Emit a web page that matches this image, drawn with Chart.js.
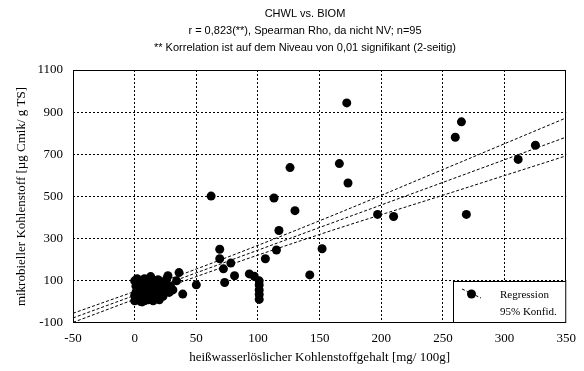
<!DOCTYPE html>
<html>
<head>
<meta charset="utf-8">
<script src="https://cdn.jsdelivr.net/npm/chart.js@4.4.1/dist/chart.umd.min.js"></script>
<style>
  html, body { margin: 0; padding: 0; background: #fff; }
  #wrap { width: 584px; height: 371px; }
</style>
</head>
<body>
<div id="wrap"><canvas id="chart" width="584" height="371"></canvas></div>
<script>
// heißwasserlöslicher Kohlenstoff (x) und mikrobieller Kohlenstoff (y), n=95
const chwl = [
  172, 265, 260, 325, 311, 166, 173, 126, 130, 197, 210, 269, 152, 62, 113, 117,
  115, 106, 142, 69, 69, 72, 78, 81, 73, 93, 97, 101, 101, 101, 101, 101, 50,
  0, 1, 1, 2, 2, 0, 3, 3, 3, 4, 4, 5, 5, 5, 6, 6, 7, 7, 7, 8, 8, 9, 9, 10, 10,
  11, 11, 12, 12, 13, 13, 14, 14, 15, 15, 16, 16, 17, 18, 18, 19, 20, 20, 21, 22,
  23, 24, 25, 26, 27, 28, 29, 31, 34, 36, 39, 2, 1, 0, 4, 6, 10, 8
];
const biom = [
  944, 854, 781, 743, 676, 656, 564, 637, 433, 415, 405, 415, 252, 502, 493, 339,
  246, 205, 128, 250, 205, 157, 184, 124, 92, 133, 122, 100, 80, 57, 35, 12, 81,
  5, 20, 45, 70, 95, 100, 10, 35, 60, 85, 100, 2, 25, 50, 75, 95, 15, 40, 65, 90, 5, 30, 55, 80, 100,
  10, 45, 70, 95, 20, 120, 55, 85, 5, 35, 65, 100, 25, 50, 80, 105, 10, 40, 70, 95,
  27, 55, 85, 110, 124, 45, 75, 57, 100, 139, 37, 110, 75, 30, 15, 0, 60, 110
];

// Regressionsgerade und 95%-Konfidenzband
const regX = [-50, 50, 150, 250, 350];
const regLine = [-76, 138, 353, 567, 782];
const confUpper = [-54, 156, 385, 628, 873];
const confLower = [-97, 120, 320, 506, 693];

const xTicks = [-50, 0, 50, 100, 150, 200, 250, 300, 350];
const yTicks = [-100, 100, 300, 500, 700, 900, 1100];

const titleLines = [
  'CHWL vs. BIOM',
  'r = 0,823(**), Spearman Rho, da nicht NV; n=95',
  '** Korrelation ist auf dem Niveau von 0,01 signifikant (2-seitig)'
];

const serif = 'Liberation Serif, Times New Roman, serif';
const sans = 'Liberation Sans, Arial, sans-serif';

const points = chwl.map((x, i) => ({ x: x, y: biom[i] }));
const toXY = (ys) => regX.map((x, i) => ({ x: x, y: ys[i] }));

const lineStyle = {
  type: 'line', showLine: true, pointRadius: 0, borderColor: '#000',
  borderWidth: 1, borderDash: [3, 2], tension: 0.35, fill: false
};

const gridColor = (edges) => (c) => (c.tick && edges.includes(c.tick.value)) ? 'rgba(0,0,0,0)' : '#000';

const framePlugin = {
  id: 'frame',
  afterDraw(chart) {
    const { ctx, chartArea: a } = chart;
    ctx.save();
    // plot frame
    ctx.strokeStyle = '#000';
    ctx.lineWidth = 1;
    ctx.setLineDash([]);
    ctx.strokeRect(Math.round(a.left) + 0.5, Math.round(a.top) + 0.5,
      Math.round(a.right - a.left) - 1, Math.round(a.bottom - a.top) - 1);

    // title
    ctx.fillStyle = '#000';
    ctx.font = '11px ' + sans;
    ctx.textAlign = 'center';
    ctx.textBaseline = 'middle';
    titleLines.forEach((t, i) => ctx.fillText(t, 305, 14 + i * 17));

    // legend box in the lower right corner
    const bx = 453, by = 281, bw = a.right - bx, bh = a.bottom - by;
    ctx.fillStyle = '#fff';
    ctx.fillRect(bx, by, bw, bh);
    ctx.strokeRect(bx + 0.5, by + 0.5, bw - 1, bh - 1);
    ctx.beginPath();
    ctx.setLineDash([3, 2]);
    ctx.moveTo(462, 289);
    ctx.lineTo(481, 298);
    ctx.stroke();
    ctx.setLineDash([]);
    ctx.beginPath();
    ctx.fillStyle = '#000';
    ctx.arc(471.5, 294, 4.5, 0, Math.PI * 2);
    ctx.fill();
    ctx.font = '11px ' + serif;
    ctx.textAlign = 'left';
    ctx.fillText('Regression', 500, 295);
    ctx.fillText('95% Konfid.', 500, 312);
    ctx.restore();
  }
};

new Chart(document.getElementById('chart'), {
  type: 'scatter',
  data: {
    datasets: [
      { label: 'BIOM', data: points, pointRadius: 4.5, pointHoverRadius: 4.5,
        backgroundColor: '#000', borderWidth: 0 },
      Object.assign({ label: 'Regression', data: toXY(regLine) }, lineStyle),
      Object.assign({ label: '95% Konfid. oben', data: toXY(confUpper) }, lineStyle),
      Object.assign({ label: '95% Konfid. unten', data: toXY(confLower) }, lineStyle)
    ]
  },
  options: {
    responsive: false,
    devicePixelRatio: 1,
    animation: false,
    layout: { padding: { top: 70, right: 17, left: 0, bottom: 0 } },
    plugins: {
      legend: { display: false },
      title: { display: false },
      tooltip: { enabled: false }
    },
    scales: {
      x: {
        type: 'linear', min: -50, max: 350,
        afterBuildTicks: (s) => { s.ticks = xTicks.map(v => ({ value: v })); },
        afterFit: (s) => { s.height = 48; },
        ticks: { color: '#000', font: { family: serif, size: 13 }, padding: 8, maxRotation: 0, autoSkip: false,
          callback: (v) => String(v) },
        grid: { color: gridColor([-50, 350]), lineWidth: 1, drawTicks: false },
        border: { display: false, dash: [2, 2] },
        title: {
          display: true, text: 'heißwasserlöslicher Kohlenstoffgehalt [mg/ 100g]',
          color: '#000', font: { family: serif, size: 13 }, padding: { top: 0, bottom: 6 }
        }
      },
      y: {
        type: 'linear', min: -100, max: 1100,
        afterBuildTicks: (s) => { s.ticks = yTicks.map(v => ({ value: v })); },
        afterFit: (s) => { s.width = 73; },
        ticks: { color: '#000', font: { family: serif, size: 13 }, padding: 10, autoSkip: false,
          callback: (v) => String(v) },
        grid: { color: gridColor([-100, 1100]), lineWidth: 1, drawTicks: false },
        border: { display: false, dash: [2, 2] },
        title: {
          display: true, text: 'mikrobieller Kohlenstoff [µg Cmik/ g TS]',
          color: '#000', font: { family: serif, size: 13 }, padding: { top: 14, bottom: 0 }
        }
      }
    }
  },
  plugins: [framePlugin]
});
</script>
</body>
</html>
